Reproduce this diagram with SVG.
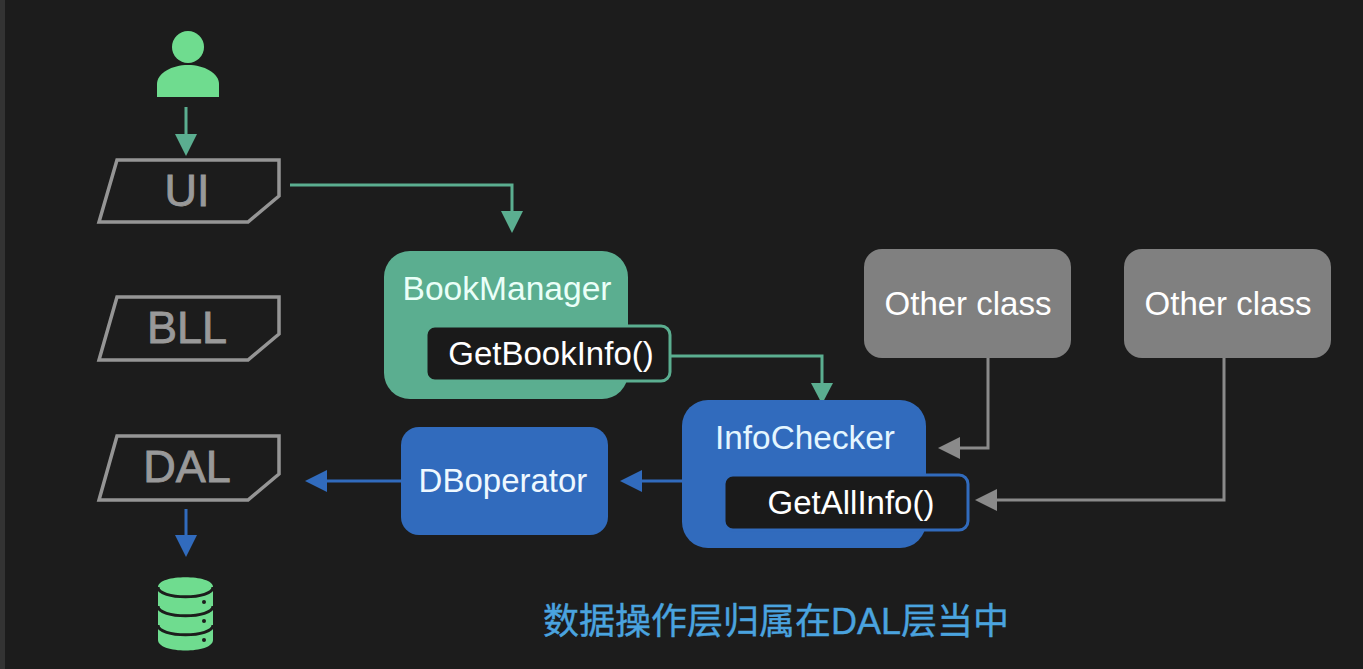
<svg xmlns="http://www.w3.org/2000/svg" width="1363" height="669" viewBox="0 0 1363 669">
<style>
text{font-family:"Liberation Sans","Noto Sans CJK SC",sans-serif}
.layer{fill:none;stroke:#959595;stroke-width:3.5}
.lt{fill:#999;stroke:#999;stroke-width:.9;font-size:45px;text-anchor:middle}
.gl{fill:none;stroke:#5bae90;stroke-width:3}
.bl{fill:none;stroke:#316bbd;stroke-width:3}
.gr{fill:none;stroke:#8a8a8a;stroke-width:3}
.pill{fill:#1a1a1a;stroke-width:3}
.w{fill:#fff;font-size:33px;text-anchor:middle}
.g{fill:#6fdc8f}
</style>
<rect width="1363" height="669" fill="#1c1c1c"/>
<rect x="0" width="5" height="669" fill="#333"/>
<g id="connectors">
<path class="gl" d="M186 107V140"/><path d="M175 134H197L186 156Z" fill="#5bae90"/>
<path class="gl" d="M290 185H512V212"/><path d="M501 211H523L512 233Z" fill="#5bae90"/>
<path class="gl" d="M670 356H822V384"/><path d="M811 383H833L822 404Z" fill="#5bae90"/>
<path class="gr" d="M988 358V448H958"/><path d="M960 437V459L938 448Z" fill="#8a8a8a"/>
<path class="gr" d="M1224 358V500H995"/><path d="M997 489V511L975 500Z" fill="#8a8a8a"/>
<path class="bl" d="M682 481H640"/><path d="M642 470V492L620 481Z" fill="#316bbd"/>
<path class="bl" d="M401 481H325"/><path d="M327 470V492L305 481Z" fill="#316bbd"/>
<path class="bl" d="M186 509V540"/><path d="M175 535H197L186 557Z" fill="#316bbd"/>
</g>
<g id="user"><circle class="g" cx="188" cy="47" r="16"/><path class="g" d="M157 97V84C157 73 172 65 188 65S219 73 219 84V97Z"/></g>
<g id="ui"><path class="layer" d="M117 160H279V196L248 222H99Z"/><text class="lt" x="187" y="206">UI</text></g>
<g id="bll"><path class="layer" d="M117 297H279V334L248 360H99Z"/><text class="lt" x="187" y="343">BLL</text></g>
<g id="dal"><path class="layer" d="M117 436H279V474L248 500H99Z"/><text class="lt" x="187" y="482">DAL</text></g>
<g id="database">
<path class="g" d="M158 587C158 574 213 574 213 587V640C213 654 158 654 158 640Z"/>
<g fill="none" stroke="#1c1c1c" stroke-width="3"><path d="M158 587C158 600 213 600 213 587"/><path d="M158 606C158 619 213 619 213 606"/><path d="M158 625C158 638 213 638 213 625"/></g>
<g fill="#1c1c1c"><circle cx="204" cy="602" r="2"/><circle cx="204" cy="621" r="2"/><circle cx="204" cy="640" r="2"/></g>
</g>
<g id="bookmanager">
<rect x="384" y="251" width="244" height="148" rx="26" fill="#5bae90"/>
<rect class="pill" x="426" y="326" width="244" height="55" rx="9" stroke="#5bae90"/>
<text x="507" y="300" fill="#eafff8" font-size="33" text-anchor="middle" textLength="209" lengthAdjust="spacingAndGlyphs">BookManager</text>
<text class="w" x="551" y="365">GetBookInfo()</text>
</g>
<g id="infochecker">
<rect x="682" y="400" width="244" height="148" rx="26" fill="#316bbd"/>
<rect class="pill" x="724" y="475" width="244" height="55" rx="9" stroke="#316bbd"/>
<text x="805" y="449" fill="#e4f6ff" font-size="33" text-anchor="middle" textLength="180" lengthAdjust="spacingAndGlyphs">InfoChecker</text>
<text class="w" x="851" y="514">GetAllInfo()</text>
</g>
<g id="dboperator"><rect x="401" y="427" width="207" height="108" rx="18" fill="#316bbd"/><text x="503" y="492" fill="#eef8ff" font-size="33" text-anchor="middle">DBoperator</text></g>
<g id="other1"><rect x="864" y="249" width="207" height="109" rx="18" fill="#808080"/><text x="968" y="315" fill="#fff" font-size="33" text-anchor="middle">Other class</text></g>
<g id="other2"><rect x="1124" y="249" width="207" height="109" rx="18" fill="#808080"/><text x="1228" y="315" fill="#fff" font-size="33" text-anchor="middle">Other class</text></g>
<text id="caption" x="776" y="634" fill="#4aa3df" stroke="#4aa3df" stroke-width=".4" font-size="36" text-anchor="middle">数据操作层归属在DAL层当中</text>
</svg>
